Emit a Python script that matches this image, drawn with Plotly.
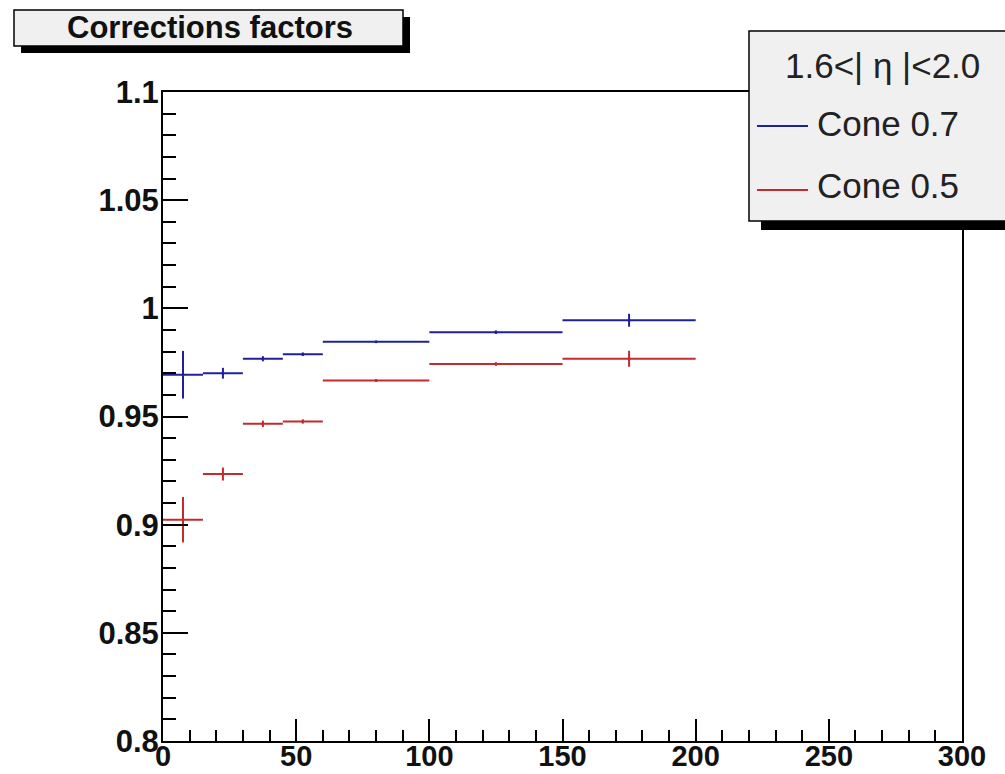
import plotly.graph_objects as go

# ---- data ----
bin_edges = [0, 15, 30, 45, 60, 100, 150, 200]
cone07_values = [0.9693, 0.9700, 0.9767, 0.9788, 0.9845, 0.9890, 0.9945]
cone07_errors = [0.0110, 0.0025, 0.0012, 0.0008, 0.0004, 0.0008, 0.0030]
cone05_values = [0.9023, 0.9234, 0.9466, 0.9477, 0.9666, 0.9743, 0.9767]
cone05_errors = [0.0105, 0.0030, 0.0015, 0.0010, 0.0005, 0.0008, 0.0037]
series_names = ["Cone 0.7", "Cone 0.5"]
legend_header = "1.6<| η |<2.0"
chart_title = "Corrections factors"

x_ticks = [0, 50, 100, 150, 200, 250, 300]
y_ticks = [0.8, 0.85, 0.9, 0.95, 1.0, 1.05, 1.1]
y_tick_text = ["0.8", "0.85", "0.9", "0.95", "1", "1.05", "1.1"]

centers = [(a + b) / 2 for a, b in zip(bin_edges[:-1], bin_edges[1:])]
halfw = [(b - a) / 2 for a, b in zip(bin_edges[:-1], bin_edges[1:])]

BLUE = "#20209c"
RED = "#c42a2e"

W, H = 1005, 774
L, R, T, B = 163, 962, 92, 741


def px(x):
    return (x - L) / (R - L)


def py(y):
    return (B - y) / (B - T)


fig = go.Figure()
for vals, errs, col, name in [(cone07_values, cone07_errors, BLUE, series_names[0]),
                              (cone05_values, cone05_errors, RED, series_names[1])]:
    fig.add_trace(go.Scatter(
        x=centers, y=vals, mode="markers", name=name,
        marker=dict(size=3, color=col),
        error_x=dict(type="data", array=halfw, width=0, thickness=2, color=col),
        error_y=dict(type="data", array=errs, width=0, thickness=2, color=col),
        showlegend=False,
    ))

shapes = []


def box(x0, y0, x1, y1, shadow):
    shapes.append(dict(type="rect", xref="paper", yref="paper",
                       x0=px(x0 + shadow[0]), x1=px(x1 + shadow[0]),
                       y0=py(y1 + shadow[1]), y1=py(y0 + shadow[1]),
                       fillcolor="black", line=dict(width=0), layer="above"))
    shapes.append(dict(type="rect", xref="paper", yref="paper",
                       x0=px(x0), x1=px(x1), y0=py(y1), y1=py(y0),
                       fillcolor="#f0f0f0", line=dict(color="black", width=1.5),
                       layer="above"))


box(14, 10, 403, 46, (7, 7))
box(749, 31, 1030, 221, (12, 9))

shapes.append(dict(type="line", xref="paper", yref="paper",
                   x0=px(757), x1=px(808), y0=py(126), y1=py(126),
                   line=dict(color=BLUE, width=2), layer="above"))
shapes.append(dict(type="line", xref="paper", yref="paper",
                   x0=px(757), x1=px(808), y0=py(190), y1=py(190),
                   line=dict(color=RED, width=2), layer="above"))

annotations = [
    dict(text=chart_title, xref="paper", yref="paper", x=px(210), y=py(27),
         xanchor="center", yanchor="middle", showarrow=False,
         font=dict(family="Liberation Sans", size=31, color="#111111", weight="bold")),
    dict(text=legend_header, xref="paper", yref="paper", x=px(882), y=py(66),
         xanchor="center", yanchor="middle", showarrow=False,
         font=dict(family="Liberation Sans", size=35, color="#222222")),
    dict(text=series_names[0], xref="paper", yref="paper", x=px(815), y=py(123),
         xanchor="left", yanchor="middle", showarrow=False,
         font=dict(family="Liberation Sans", size=35, color="#222222")),
    dict(text=series_names[1], xref="paper", yref="paper", x=px(815), y=py(185),
         xanchor="left", yanchor="middle", showarrow=False,
         font=dict(family="Liberation Sans", size=35, color="#222222")),
]

ytickfont = dict(family="Liberation Sans", size=31, color="#111111", weight="bold")
xtickfont = dict(family="Liberation Sans", size=29, color="#111111", weight="bold")

fig.update_layout(
    width=W, height=H,
    margin=dict(l=L, r=W - R, t=T, b=H - B, pad=0),
    paper_bgcolor="white", plot_bgcolor="white",
    shapes=shapes, annotations=annotations,
    xaxis=dict(range=[0, 300], tickvals=x_ticks, ticks="inside", ticklen=22,
               tickwidth=1.5, tickcolor="black", showgrid=False, zeroline=False,
               showline=True, linecolor="black", linewidth=2, mirror=True,
               tickfont=xtickfont, automargin=False, ticklabelstandoff=-12,
               minor=dict(dtick=10, ticks="inside", ticklen=11, tickwidth=1.5,
                          tickcolor="black", showgrid=False)),
    yaxis=dict(range=[0.8, 1.1], tickvals=y_ticks, ticktext=y_tick_text,
               ticks="inside", ticklen=25, automargin=False, ticklabelstandoff=-4,
               tickwidth=1.5, tickcolor="black", showgrid=False, zeroline=False,
               showline=True, linecolor="black", linewidth=2, mirror=True,
               tickfont=ytickfont,
               minor=dict(dtick=0.01, tick0=0.8, ticks="inside", ticklen=13, tickwidth=1.5,
                          tickcolor="black", showgrid=False)),
)

fig.write_html("out.html")
